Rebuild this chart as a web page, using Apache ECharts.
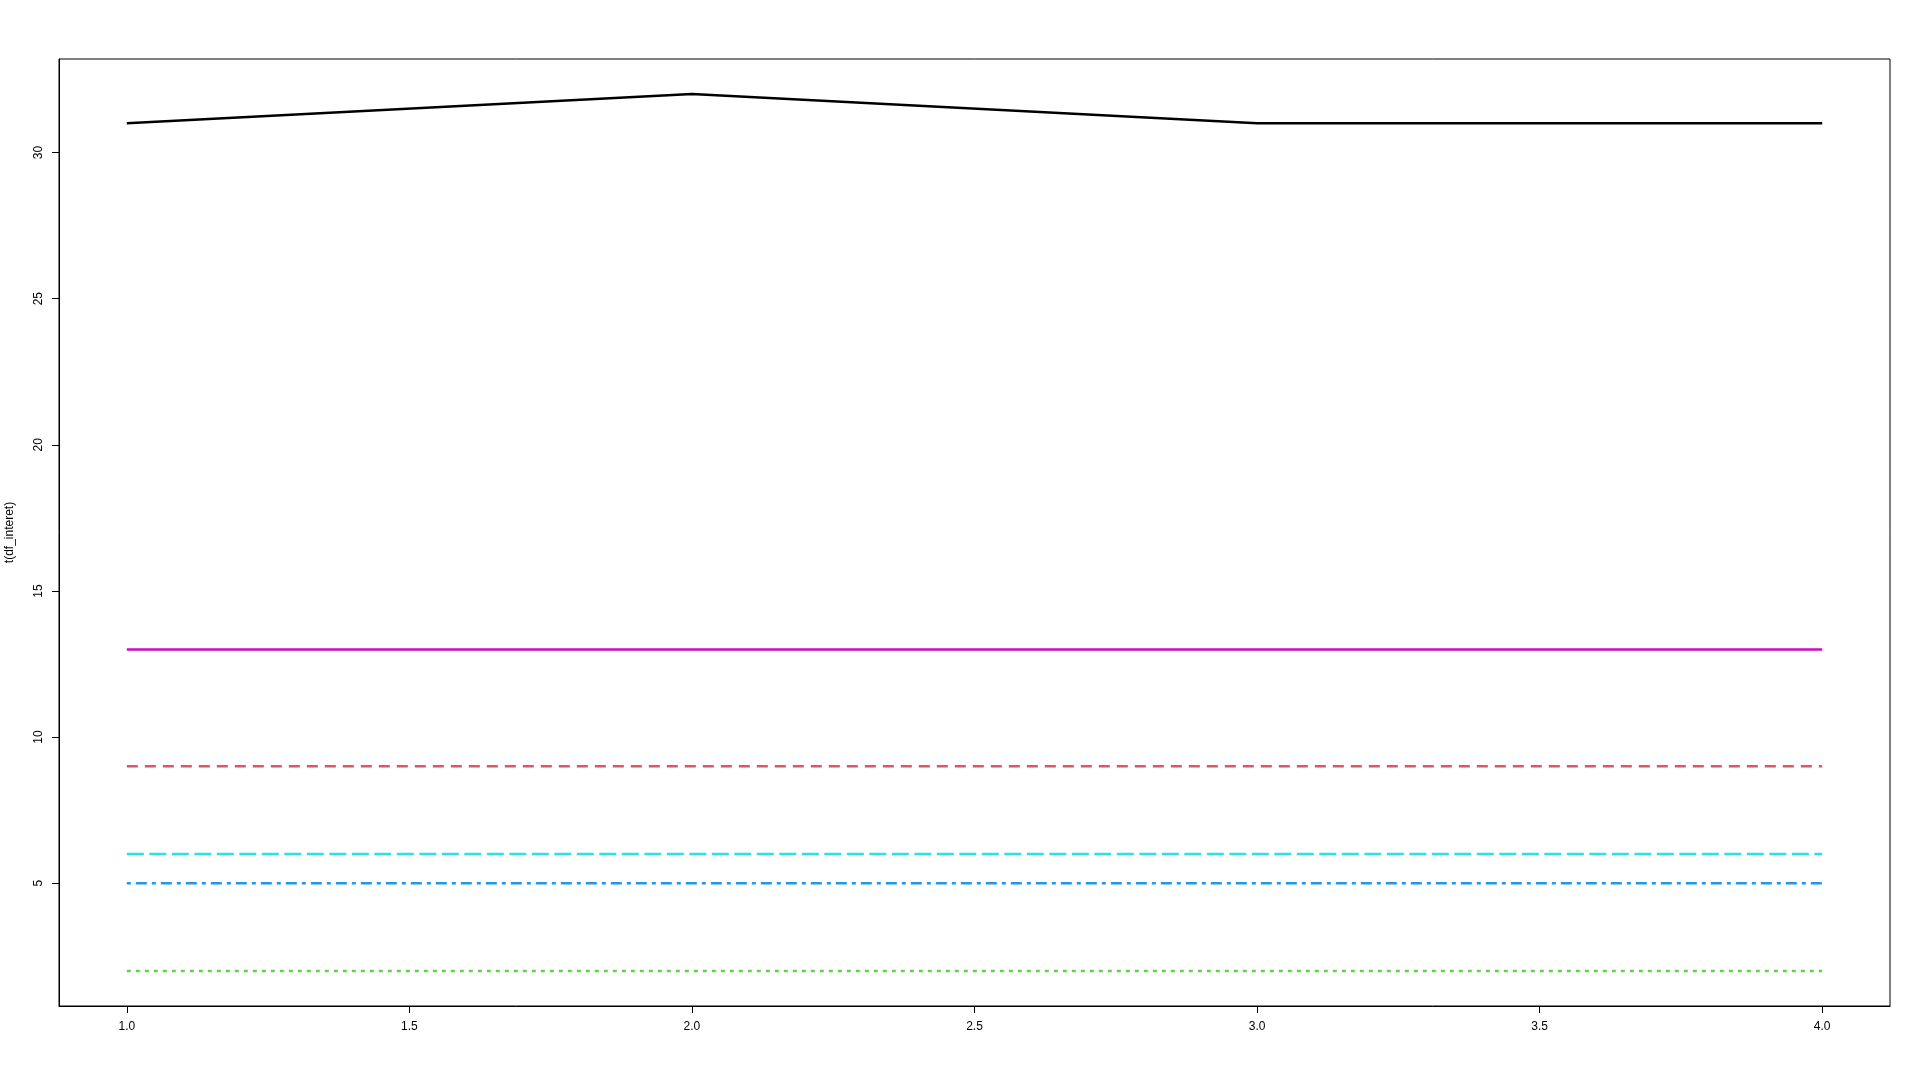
<!DOCTYPE html>
<html>
<head>
<meta charset="utf-8">
<script src="https://cdn.jsdelivr.net/npm/echarts@6/dist/echarts.min.js"></script>
<style>
html,body{margin:0;padding:0;background:#fff;}
#chart{width:1920px;height:1080px;}
</style>
</head>
<body>
<div id="chart"></div>
<script>
// Data (matplot of t(df_interet))
const xValues = [1, 2, 3, 4];
const xTicks = [1.0, 1.5, 2.0, 2.5, 3.0, 3.5, 4.0];
const yTicks = [5, 10, 15, 20, 25, 30];
const series1 = [31, 32, 31, 31]; // black, solid
const series2 = [9, 9, 9, 9];     // red, dashed
const series3 = [2, 2, 2, 2];     // green, dotted
const series4 = [5, 5, 5, 5];     // blue, dot-dash
const series5 = [6, 6, 6, 6];     // cyan, long dash
const series6 = [13, 13, 13, 13]; // magenta, solid
const yName = 't(df_interet)';

const seriesDefs = [
  {vals: series1, color: '#000000', dash: 'solid'},
  {vals: series2, color: '#DF536B', dash: [11, 7]},
  {vals: series3, color: '#61D04F', dash: [4, 5]},
  {vals: series4, color: '#2297E6', dash: [4, 5, 11, 5]},
  {vals: series5, color: '#28E2E5', dash: [17, 5.5]},
  {vals: series6, color: '#CD0BBC', dash: 'solid'}
];

const chart = echarts.init(document.getElementById('chart'), null, {renderer: 'canvas'});
const font = 'Liberation Sans, Arial, Helvetica, sans-serif';

chart.setOption({
  animation: false,
  backgroundColor: '#ffffff',
  grid: {
    left: 59, right: 30, top: 59, bottom: 74,
    containLabel: false,
    outerBoundsMode: 'none',
    show: true, borderColor: '#000', borderWidth: 1, backgroundColor: 'transparent'
  },
  xAxis: {
    type: 'value',
    min: 0.88, max: 4.12,
    splitLine: {show: false},
    axisLine: {show: true, onZero: false, lineStyle: {color: '#000', width: 1}},
    axisTick: {show: true, inside: false, length: 7, customValues: xTicks, lineStyle: {color: '#000'}},
    axisLabel: {
      show: true, customValues: xTicks, margin: 15,
      color: '#000', fontSize: 12, fontFamily: font,
      formatter: v => Number(v).toFixed(1)
    }
  },
  yAxis: {
    type: 'value',
    min: 0.8, max: 33.2,
    name: yName,
    nameLocation: 'middle',
    nameGap: 43,
    nameRotate: 90,
    nameTextStyle: {color: '#000', fontSize: 12, fontFamily: font},
    splitLine: {show: false},
    axisLine: {show: true, onZero: false, lineStyle: {color: '#000', width: 1}},
    axisTick: {show: true, inside: false, length: 7, customValues: yTicks, lineStyle: {color: '#000'}},
    axisLabel: {
      show: true, customValues: yTicks, margin: 14, rotate: 90,
      color: '#000', fontSize: 12, fontFamily: font
    }
  },
  series: seriesDefs.map((s, i) => ({
    type: 'line',
    name: 'V' + (i + 1),
    data: xValues.map((x, j) => [x, s.vals[j]]),
    showSymbol: false,
    symbol: 'none',
    z: 2 + i,
    lineStyle: {color: s.color, width: 2.5, type: s.dash, cap: 'butt'}
  }))
});
</script>
</body>
</html>
